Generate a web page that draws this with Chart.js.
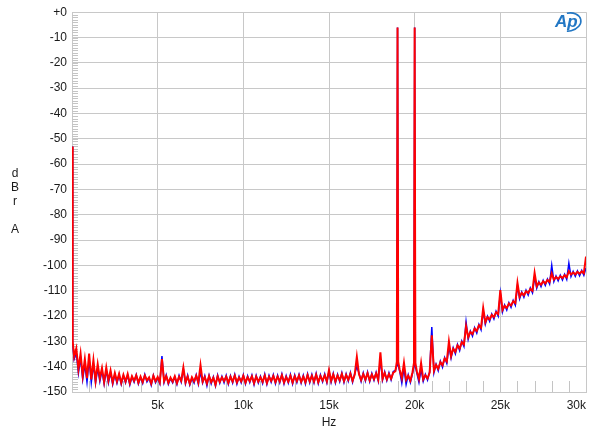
<!DOCTYPE html>
<html><head><meta charset="utf-8">
<script src="https://cdn.jsdelivr.net/npm/chart.js@4/dist/chart.umd.min.js"></script>
<style>html,body{margin:0;padding:0;background:#fff}#wrap{width:600px;height:440px}</style>
</head><body><div id="wrap"><canvas id="c" width="600" height="440"></canvas></div>
<script>
// Frequencies (Hz)
const freqHz = [
0,40,125,250,375,500,625,750,875,
1000,1125,1250,1375,1500,1625,1750,1875,
2000,2125,2250,2375,2500,2625,2750,2875,
3000,3125,3250,3375,3500,3625,3750,3875,
4000,4125,4250,4375,4500,4625,4750,4875,
5000,5125,5250,5375,5500,5625,5750,5875,
6000,6125,6250,6375,6500,6625,6750,6875,
7000,7125,7250,7375,7500,7625,7750,7875,
8000,8125,8250,8375,8500,8625,8750,8875,
9000,9125,9250,9375,9500,9625,9750,9875,
10000,10125,10250,10375,10500,10625,10750,10875,
11000,11125,11250,11375,11500,11625,11750,11875,
12000,12125,12250,12375,12500,12625,12750,12875,
13000,13125,13250,13375,13500,13625,13750,13875,
14000,14125,14250,14375,14500,14625,14750,14875,
15000,15125,15250,15375,15500,15625,15750,15875,
16000,16125,16250,16375,16500,16625,16750,16875,
17000,17125,17250,17375,17500,17625,17750,17875,
18000,18125,18250,18375,18500,18625,18750,18875,
18960,19000,19040,
19125,19250,19375,19500,19625,19750,19875,
19960,20000,20040,
20125,20250,20375,20500,20625,20750,20875,
21000,21125,21250,21375,21500,21625,21750,21875,
22000,22125,22250,22375,22500,22625,22750,22875,
23000,23125,23250,23375,23500,23625,23750,23875,
24000,24125,24250,24375,24500,24625,24750,24875,
25000,25125,25250,25375,25500,25625,25750,25875,
26000,26125,26250,26375,26500,26625,26750,26875,
27000,27125,27250,27375,27500,27625,27750,27875,
28000,28125,28250,28375,28500,28625,28750,28875,
29000,29125,29250,29375,29500,29625,29750,29875,
30000
];
// Red trace (dBr A)
const redDb = [
-53,-130,-136,-132.8,-141,-134.8,-143.5,-137,-144.5,
-134.8,-145,-137.4,-145.5,-139,-144.5,-140.5,-146,
-140.3,-145.5,-141.5,-146.2,-142.5,-145.8,-142.8,-146.4,
-143.2,-145.9,-142.9,-146.5,-143.8,-145.6,-143.4,-146.3,
-143.9,-146.1,-143.5,-145.4,-144.2,-146.7,-143.6,-145.8,
-144.1,-146.2,-137,-145.7,-143.7,-146.4,-144.3,-145.9,
-143.8,-146.5,-144,-145.6,-140.3,-146.2,-143.9,-146.7,
-144.2,-145.8,-143.6,-146.3,-139.4,-145.9,-144.1,-146.6,
-143.7,-146.1,-144.4,-147.2,-143.8,-146,-144.2,-145.7,
-143.9,-146.4,-144,-145.9,-143.5,-146.2,-144.3,-145.8,
-143.6,-146.3,-144.1,-145.7,-143.8,-146.5,-143.9,-145.9,
-144.2,-146,-143.5,-146.4,-144,-145.6,-143.7,-146.1,
-143.9,-145.8,-143.4,-146.2,-144.1,-145.9,-143.6,-146.3,
-143.8,-145.7,-143.5,-146,-143.9,-146.2,-143.3,-145.8,
-143.6,-145.9,-143.2,-146.1,-143.7,-145.5,-143.4,-145.8,
-141.3,-145.6,-143.1,-145.9,-143.5,-145.4,-142.9,-145.7,
-143.3,-145.2,-142.8,-145.6,-143.2,-136.1,-143,-145.3,
-142.9,-145.1,-142.6,-145.4,-143.1,-144.9,-142.7,-145.2,
-134.3,-144.8,-142.5,-145,-142.9,-144.7,-142.4,-141.8,
-138,-6,-138,
-141.2,-144.5,-138.5,-145.2,-143.6,-145.5,-142.2,
-138.5,-6,-138.5,
-141.8,-144.8,-138.6,-145,-143.4,-144.6,-142.3,
-127.6,-141.6,-139.3,-140.8,-138.2,-139.4,-136.8,-137.9,
-130,-135.8,-132.9,-134.1,-131.6,-132.8,-130.3,-131.2,
-124,-128.4,-126.3,-127.1,-125,-125.9,-123.7,-124.6,
-116.8,-122.4,-120.5,-121.3,-119.6,-120.4,-118.5,-119.2,
-109.8,-117.6,-116,-116.8,-115.1,-115.8,-114.2,-114.9,
-106.9,-112.4,-110.9,-111.8,-110.2,-110.9,-109.3,-110,
-103,-108.2,-106.8,-107.6,-106.3,-107.1,-105.8,-106.5,
-103.2,-105.6,-104.6,-105.3,-104.3,-105,-103.9,-104.7,
-102.3,-103.6,-102.8,-103.5,-102.6,-103.3,-102.4,-103.1,
-96.5
];
// Blue trace (dBr A)
const blueDb = [
-53,-131,-137,-134.5,-142.5,-136.5,-145,-139,-146,
-137,-146.3,-139,-146.5,-140.5,-145.8,-141.5,-146.8,
-141.5,-146.4,-142.3,-147,-143,-146.5,-143.2,-146.9,
-143.5,-146.4,-143.4,-147.2,-144,-146.1,-143.2,-146.8,
-144.2,-146.6,-143.1,-146,-144.5,-147.3,-143.4,-146.3,
-144.5,-146.7,-135.8,-146.2,-143.3,-146.9,-144.6,-146.4,
-144.1,-147,-143.5,-146.1,-141,-146.7,-143.4,-147.2,
-144.5,-146.4,-143.2,-146.9,-142,-146.4,-143.6,-147.5,
-143.4,-146.7,-144,-147.6,-143.3,-146.5,-143.8,-146.3,
-143.4,-146.9,-143.6,-146.4,-143.1,-146.8,-143.9,-146.3,
-143.2,-146.8,-143.6,-146.2,-143.4,-147.1,-143.5,-146.4,
-143.8,-146.6,-143,-146.9,-143.5,-146.1,-143.2,-146.7,
-143.4,-146.3,-142.9,-146.8,-143.6,-146.4,-143.1,-146.8,
-143.3,-146.2,-143.1,-146.5,-143.4,-146.8,-142.8,-146.3,
-143.1,-146.4,-142.7,-146.6,-143.2,-146,-142.9,-146.3,
-141.8,-146.1,-142.6,-146.4,-143,-145.9,-142.4,-146.2,
-142.8,-145.7,-142.3,-146.1,-142.7,-140,-142.5,-145.8,
-142.4,-145.6,-142.1,-145.9,-142.6,-145.4,-142.2,-145.7,
-137,-145.3,-142,-145.5,-142.4,-145.2,-141.9,-141.5,
-139.5,-6,-139.5,
-141.8,-146.5,-140.5,-147,-143.2,-146.2,-142.6,
-139.8,-6,-139.8,
-142.4,-146.2,-141,-145.8,-143,-145.3,-142,
-124.3,-142.4,-139,-141.6,-137.8,-140.2,-136.4,-138.7,
-132,-136.6,-132.5,-134.9,-131.2,-133.6,-129.9,-132,
-122.3,-129.2,-125.9,-127.9,-124.6,-126.7,-123.3,-125.4,
-118,-123.2,-120.1,-122.1,-119.2,-121.2,-118.1,-120,
-111,-118.4,-115.6,-117.6,-114.7,-116.6,-113.8,-115.7,
-108,-113.2,-110.5,-112.6,-109.8,-111.7,-108.9,-110.8,
-104.5,-109,-106.4,-108.4,-105.9,-107.9,-105.4,-107.3,
-100,-106.4,-104.2,-106.1,-103.9,-105.8,-103.5,-105.5,
-99.1,-104.4,-102.4,-104.3,-102.2,-104.1,-102,-103.9,
-101
];
const xTickLabels = {0:'', 5000:'5k', 10000:'10k', 15000:'15k', 20000:'20k', 25000:'25k', 30000:'30k'};
const yTitleLetters = ['d','B','r','A'];
const xTitle = 'Hz';
const logoText = 'Ap';

const FONT = "'Liberation Sans', Arial, sans-serif";
const GRID = '#c8c8c8';

const minorTicks = {
  id: 'minorTicks',
  beforeDatasetsDraw(chart) {
    const {ctx, chartArea: a, scales: {x, y}} = chart;
    ctx.save();
    ctx.strokeStyle = '#c4c4c4';
    ctx.lineWidth = 1;
    ctx.beginPath();
    for (let f = 1000; f < 30000; f += 1000) {
      const px = Math.round(x.getPixelForValue(f)) + 0.5;
      ctx.moveTo(px, a.bottom); ctx.lineTo(px, a.bottom - 11);
    }
    for (let d = -149; d < 0; d += 1) {
      const py = Math.round(y.getPixelForValue(d)) + 0.5;
      ctx.moveTo(a.left, py); ctx.lineTo(a.left + 6, py);
    }
    ctx.stroke();
    ctx.restore();
  }
};

const extraText = {
  id: 'extraText',
  afterDraw(chart) {
    const ctx = chart.ctx;
    ctx.save();
    ctx.fillStyle = '#1a1a1a';
    ctx.font = '12px ' + FONT;
    ctx.textAlign = 'center';
    ctx.textBaseline = 'middle';
    const ys = [174, 188, 202, 230];
    yTitleLetters.forEach((t, i) => ctx.fillText(t, 15, ys[i]));
    // logo
    ctx.fillStyle = '#2277c4';
    ctx.strokeStyle = '#2277c4';
    ctx.font = 'italic bold 17px ' + FONT;
    ctx.textAlign = 'left';
    ctx.fillText(logoText, 555, 22);
    ctx.lineWidth = 1.6;
    ctx.beginPath();
    ctx.ellipse(569, 22, 12, 9, -0.2, -1.6, 1.9);
    ctx.stroke();
    ctx.restore();
  }
};

const mk = arr => freqHz.map((f, i) => ({x: f, y: arr[i]}));

new Chart(document.getElementById('c'), {
  type: 'line',
  data: {
    datasets: [
      {label: 'Red', data: mk(redDb), borderColor: '#ff0000', borderWidth: 2, pointRadius: 0, tension: 0},
      {label: 'Blue', data: mk(blueDb), borderColor: '#0000ff', borderWidth: 1.5, pointRadius: 0, tension: 0}
    ]
  },
  options: {
    responsive: false,
    devicePixelRatio: 1,
    animation: false,
    events: [],
    layout: {padding: {left: 0, right: 14, top: 10, bottom: 0}},
    plugins: {legend: {display: false}, tooltip: {enabled: false}},
    scales: {
      x: {
        type: 'linear', min: 0, max: 30000,
        afterFit(s) { s.height = 48; },
        grid: {color: GRID, drawTicks: false},
        border: {color: GRID},
        ticks: {stepSize: 5000, padding: 6, align: 'inner', maxRotation: 0, color: '#1a1a1a',
          font: {family: FONT, size: 12},
          callback: v => (xTickLabels[v] !== undefined ? xTickLabels[v] : '')},
        title: {display: true, text: xTitle, color: '#1a1a1a', font: {family: FONT, size: 12}, padding: {top: 0, bottom: 10}}
      },
      y: {
        type: 'linear', min: -150, max: 0,
        afterFit(s) { s.width = 72; },
        grid: {color: GRID, drawTicks: false},
        border: {color: GRID},
        ticks: {stepSize: 10, padding: 5, color: '#1a1a1a', font: {family: FONT, size: 12},
          callback: v => (v === 0 ? '+0' : String(v))}
      }
    }
  },
  plugins: [minorTicks, extraText]
});
</script>
</body></html>
